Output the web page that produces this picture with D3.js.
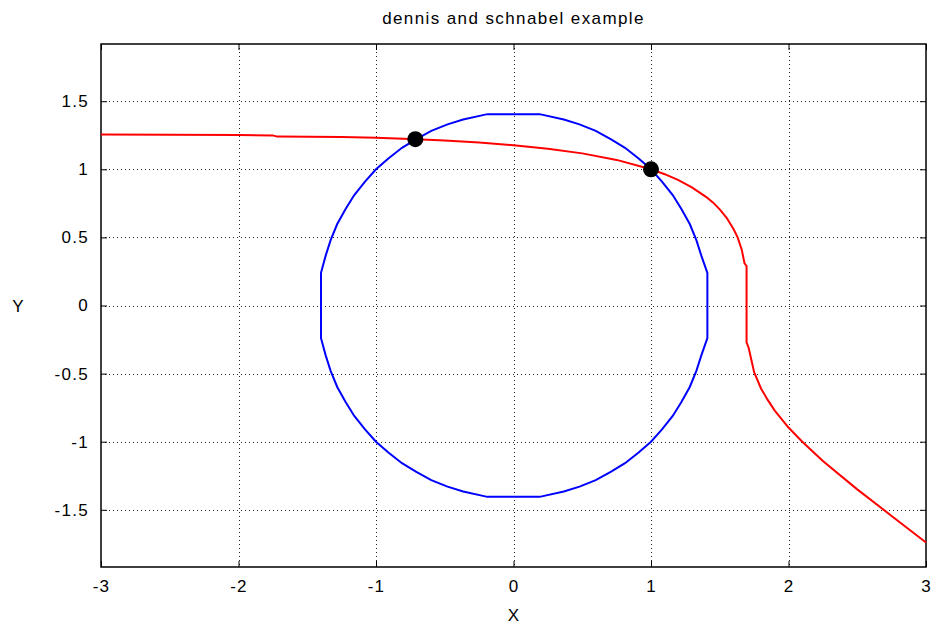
<!DOCTYPE html>
<html>
<head>
<meta charset="utf-8">
<script src="https://cdn.jsdelivr.net/npm/d3@7"></script>
<style>
  body { margin: 0; background: #fff; }
  text { font-family: "Liberation Sans", Arial, sans-serif; }
</style>
</head>
<body>
<div id="chart"></div>
<script>
// dennis and schnabel example

const chartTitle = "dennis and schnabel example";
const xTicks = [-3, -2, -1, 0, 1, 2, 3];
const yTicks = [-1.5, -1, -0.5, 0, 0.5, 1, 1.5];

// blue curve (circle contour)
const circleX = [1.41, 1.41, 1.366, 1.33, 1.282, 1.22, 1.158, 1.08, 1.00, 0.91, 0.811, 0.71, 0.598, 0.48, 0.366, 0.19,
  -0.19, -0.366, -0.48, -0.598, -0.71, -0.811, -0.91, -1.00, -1.08, -1.158, -1.22, -1.282, -1.33, -1.366, -1.40,
  -1.40, -1.366, -1.33, -1.282, -1.22, -1.158, -1.08, -1.00, -0.91, -0.811, -0.71, -0.598, -0.48, -0.366, -0.19,
  0.19, 0.366, 0.48, 0.598, 0.71, 0.811, 0.91, 1.00, 1.08, 1.158, 1.22, 1.282, 1.33, 1.366, 1.41];
const circleY = [-0.24, 0.24, 0.366, 0.48, 0.598, 0.71, 0.811, 0.91, 1.00, 1.08, 1.158, 1.22, 1.282, 1.33, 1.366, 1.405,
  1.405, 1.366, 1.33, 1.282, 1.22, 1.158, 1.08, 1.00, 0.91, 0.811, 0.71, 0.598, 0.48, 0.366, 0.24,
  -0.24, -0.366, -0.48, -0.598, -0.71, -0.811, -0.91, -1.00, -1.08, -1.158, -1.22, -1.282, -1.33, -1.366, -1.405,
  -1.405, -1.366, -1.33, -1.282, -1.22, -1.158, -1.08, -1.00, -0.91, -0.811, -0.71, -0.598, -0.48, -0.366, -0.24];

// red curve
const curveX = [-3.00, -2.50, -2.00, -1.75, -1.72, -1.25, -1.00, -0.75, -0.50, -0.25, 0.00, 0.25, 0.50, 0.75, 1.00,
  1.10, 1.20, 1.30, 1.40, 1.45, 1.50, 1.55, 1.60, 1.63, 1.66, 1.68, 1.695, 1.695, 1.71, 1.75, 1.80, 1.85, 1.90,
  2.00, 2.10, 2.25, 2.50, 2.75, 3.00];
const curveY = [1.256, 1.254, 1.251, 1.249, 1.240, 1.238, 1.232, 1.223, 1.211, 1.197, 1.177, 1.151, 1.117, 1.069, 1.000,
  0.964, 0.920, 0.866, 0.798, 0.757, 0.706, 0.644, 0.562, 0.500, 0.410, 0.31, 0.29, -0.27, -0.31, -0.49, -0.609, -0.695, -0.772,
  -0.896, -1.00, -1.142, -1.350, -1.545, -1.740];

// solutions (black dots)
const solX = [-0.714, 1.0];
const solY = [1.221, 1.0];

const width = 936, height = 625;
const margin = { top: 44, right: 10, bottom: 58, left: 101 };

const svg = d3.select("#chart").append("svg")
    .attr("width", width)
    .attr("height", height);

const x = d3.scaleLinear()
    .domain([-3, 3])
    .range([margin.left, width - margin.right]);

const y = d3.scaleLinear()
    .domain([-1.92, 1.92])
    .range([height - margin.bottom, margin.top]);

// grid
const grid = svg.append("g")
    .attr("stroke", "#222")
    .attr("stroke-width", 1)
    .attr("stroke-dasharray", "1,3");

grid.selectAll(".vgrid")
    .data(xTicks.slice(1, -1))
    .enter().append("line")
    .attr("x1", d => Math.round(x(d)) + 0.5)
    .attr("x2", d => Math.round(x(d)) + 0.5)
    .attr("y1", margin.top)
    .attr("y2", height - margin.bottom);

grid.selectAll(".hgrid")
    .data(yTicks)
    .enter().append("line")
    .attr("x1", margin.left)
    .attr("x2", width - margin.right)
    .attr("y1", d => Math.round(y(d)) + 0.5)
    .attr("y2", d => Math.round(y(d)) + 0.5);

// axes with inward ticks (mirrored on top/right)
const xAxis = g => g
    .attr("transform", `translate(0,${height - margin.bottom})`)
    .call(d3.axisBottom(x).tickValues(xTicks).tickSize(-6).tickPadding(13).tickFormat(d => String(d)))
    .call(g => g.select(".domain").remove());

const yAxis = g => g
    .attr("transform", `translate(${margin.left},0)`)
    .call(d3.axisLeft(y).tickValues(yTicks).tickSize(-6).tickPadding(12).tickFormat(d => String(d)))
    .call(g => g.select(".domain").remove());

svg.append("g").call(xAxis);
svg.append("g").call(yAxis);

svg.append("g")
    .attr("transform", `translate(0,${margin.top})`)
    .call(d3.axisTop(x).tickValues(xTicks).tickSize(-6).tickFormat(""))
    .call(g => g.select(".domain").remove());

svg.append("g")
    .attr("transform", `translate(${width - margin.right},0)`)
    .call(d3.axisRight(y).tickValues(yTicks).tickSize(-6).tickFormat(""))
    .call(g => g.select(".domain").remove());

svg.selectAll(".tick line").attr("stroke", "#000");
svg.selectAll(".tick text")
    .style("font-size", "17px")
    .style("letter-spacing", "1.3px")
    .style("font-family", "'Liberation Sans', Arial, sans-serif")
    .attr("fill", "#000");

// border
svg.append("rect")
    .attr("x", margin.left)
    .attr("y", margin.top)
    .attr("width", width - margin.left - margin.right)
    .attr("height", height - margin.top - margin.bottom)
    .attr("fill", "none")
    .attr("stroke", "#000")
    .attr("stroke-width", 1.5);

const line = d3.line()
    .x(d => x(d[0]))
    .y(d => y(d[1]));

const circlePts = circleX.map((v, i) => [v, circleY[i]]);
const curvePts = curveX.map((v, i) => [v, curveY[i]]);

svg.append("path")
    .datum(circlePts)
    .attr("fill", "none")
    .attr("stroke", "#0000ff")
    .attr("stroke-width", 2)
    .attr("d", line);

svg.append("path")
    .datum(curvePts)
    .attr("fill", "none")
    .attr("stroke", "#ff0000")
    .attr("stroke-width", 2)
    .attr("d", line);

svg.selectAll(".sol")
    .data(solX)
    .enter().append("circle")
    .attr("cx", d => x(d))
    .attr("cy", (d, i) => y(solY[i]))
    .attr("r", 8)
    .attr("fill", "#000");

// titles
svg.append("text")
    .attr("x", (margin.left + width - margin.right) / 2)
    .attr("y", 24)
    .attr("text-anchor", "middle")
    .style("font-size", "17px")
    .style("letter-spacing", "1.4px")
    .text(chartTitle);

svg.append("text")
    .attr("x", (margin.left + width - margin.right) / 2)
    .attr("y", 621)
    .attr("text-anchor", "middle")
    .style("font-size", "17px")
    .text("X");

svg.append("text")
    .attr("x", 18)
    .attr("y", y(0) + 6)
    .attr("text-anchor", "middle")
    .style("font-size", "17px")
    .text("Y");
</script>
</body>
</html>
